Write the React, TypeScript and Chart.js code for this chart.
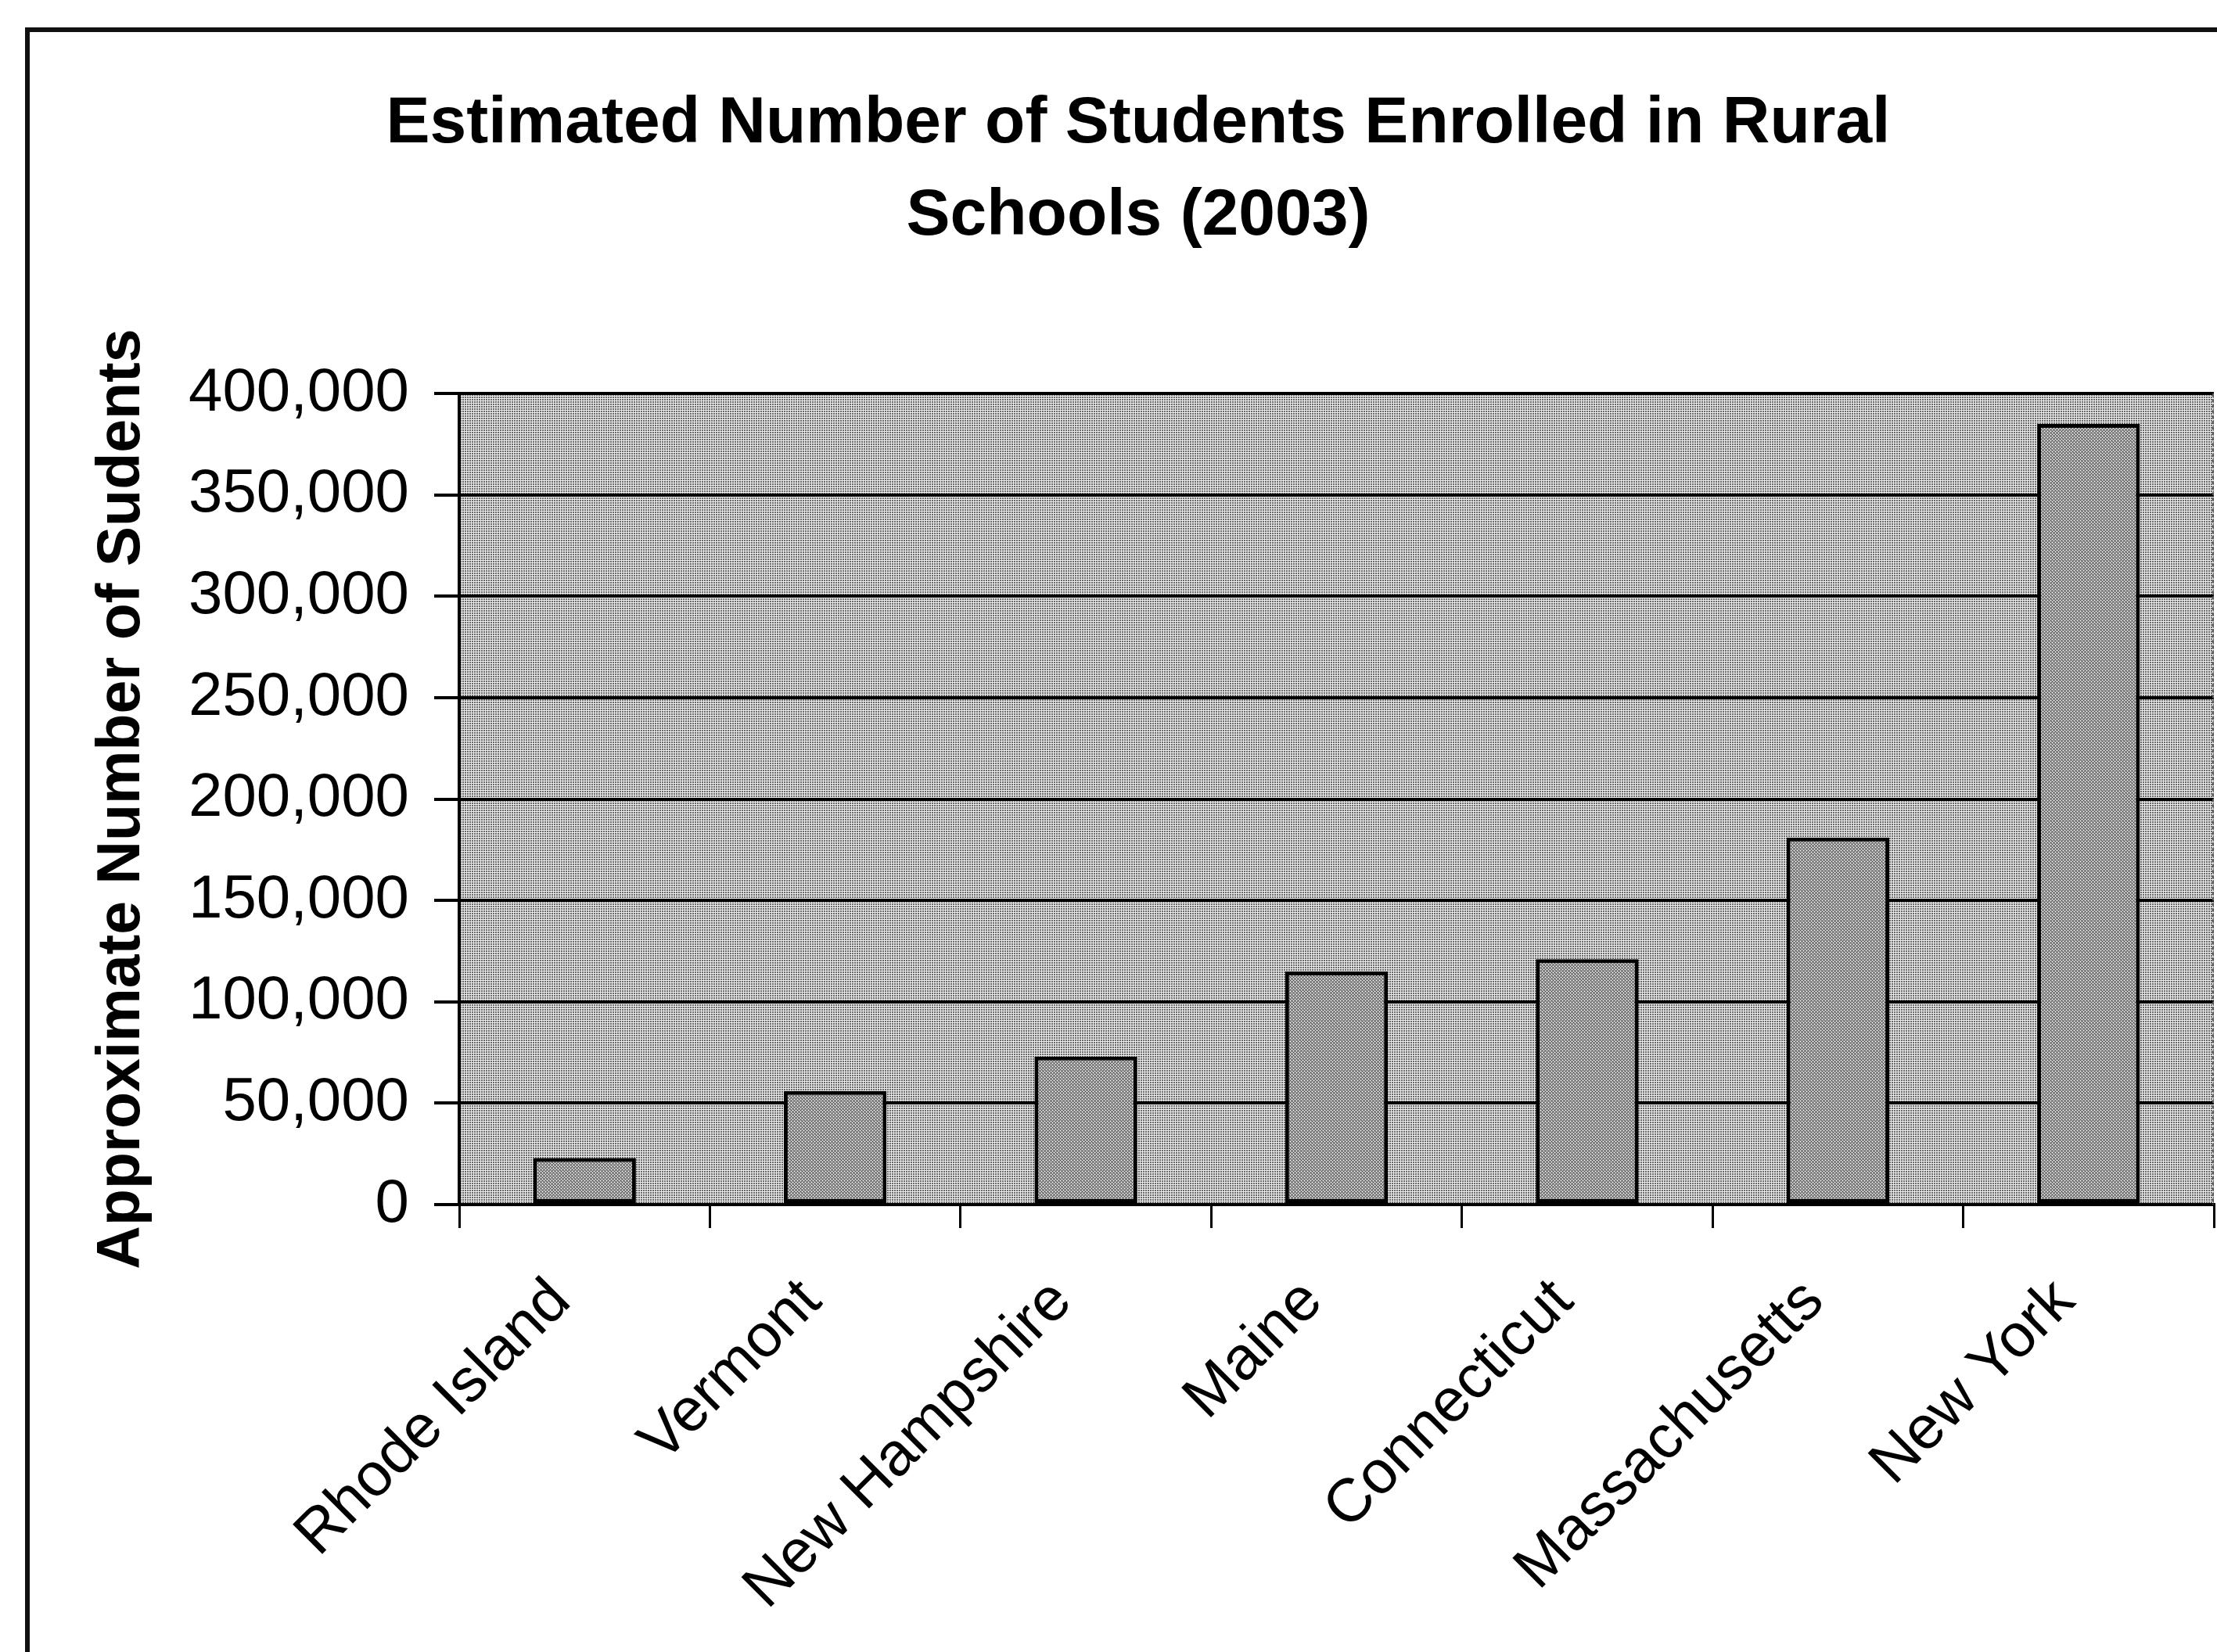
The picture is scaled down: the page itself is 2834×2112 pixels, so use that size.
import React, { useEffect, useRef } from 'react';
import { Chart, registerables } from 'chart.js';

Chart.register(...registerables);

const categories = [
  'Rhode Island',
  'Vermont',
  'New Hampshire',
  'Maine',
  'Connecticut',
  'Massachusetts',
  'New York',
];
const students = [23000, 56000, 73000, 115000, 121000, 181000, 385000];
const yMin = 0;
const yMax = 400000;
const yStep = 50000;
const titleLines = ['Estimated Number of Students Enrolled in Rural', 'Schools (2003)'];
const yAxisTitle = 'Approximate Number of Sudents';

const FONT = '"Liberation Sans", Arial, Helvetica, sans-serif';
const W = 2834;
const H = 2112;

function makePattern(matrix: number[][], dark: string, light: string) {
  const n = matrix.length;
  const c = document.createElement('canvas');
  c.width = matrix[0].length;
  c.height = n;
  const g = c.getContext('2d')!;
  for (let y = 0; y < n; y++) {
    for (let x = 0; x < matrix[y].length; x++) {
      g.fillStyle = matrix[y][x] ? dark : light;
      g.fillRect(x, y, 1, 1);
    }
  }
  return g.createPattern(c, 'repeat')!;
}

export default function App() {
  const canvasRef = useRef<HTMLCanvasElement | null>(null);

  useEffect(() => {
    document.body.style.margin = '0';
    const canvas = canvasRef.current;
    if (!canvas) return;
    const ctx = canvas.getContext('2d')!;

    const bgPattern = makePattern(
      [
        [1, 1, 0],
        [1, 1, 0],
        [0, 0, 0],
      ],
      '#6a6a6a',
      '#ececec'
    );
    const barPattern = makePattern(
      [
        [1, 0, 1, 0],
        [0, 1, 0, 0],
        [1, 0, 1, 0],
        [0, 0, 0, 1],
      ],
      '#363636',
      '#d4d4d4'
    );

    const framePlugin = {
      id: 'frame',
      beforeDraw(chart: any) {
        const { ctx: c, chartArea } = chart;
        c.save();
        c.fillStyle = '#ffffff';
        c.fillRect(0, 0, chart.width, chart.height);
        c.fillStyle = bgPattern;
        c.fillRect(chartArea.left, chartArea.top, chartArea.right - chartArea.left, chartArea.bottom - chartArea.top);
        c.restore();
      },
      afterDraw(chart: any) {
        const { ctx: c, chartArea } = chart;
        c.save();
        c.strokeStyle = '#555555';
        c.lineWidth = 2;
        c.setLineDash([4, 3]);
        c.beginPath();
        c.moveTo(chartArea.right - 1, chartArea.top);
        c.lineTo(chartArea.right - 1, chartArea.bottom);
        c.stroke();
        c.setLineDash([]);
        c.strokeStyle = '#111111';
        c.lineWidth = 6;
        c.strokeRect(35, 38, 6000, 6000);
        c.restore();
      },
    };

    const chart = new Chart(ctx, {
      type: 'bar',
      data: {
        labels: categories,
        datasets: [
          {
            data: students,
            backgroundColor: barPattern as any,
            borderColor: '#000000',
            borderWidth: 5,
            borderSkipped: false,
            barPercentage: 0.41,
            categoryPercentage: 1.0,
          },
        ],
      },
      options: {
        responsive: false,
        animation: false,
        devicePixelRatio: 1,
        layout: { padding: { left: 80, right: 4, top: 0, bottom: 0 } },
        plugins: {
          legend: { display: false },
          tooltip: { enabled: false },
          title: {
            display: true,
            text: titleLines,
            color: '#000000',
            font: { family: FONT, size: 84, weight: 'bold', lineHeight: 1.4 },
            padding: { top: 100, bottom: 168 },
          },
        },
        scales: {
          x: {
            grid: {
              display: true,
              drawOnChartArea: false,
              drawTicks: true,
              tickLength: 30,
              color: '#000000',
              lineWidth: 3,
              offset: true,
            },
            border: { display: true, color: '#000000', width: 4 },
            ticks: {
              color: '#000000',
              font: { family: FONT, size: 78 },
              maxRotation: 45,
              minRotation: 45,
              padding: 48,
              labelOffset: -30,
              autoSkip: false,
            },
            afterFit: (s: any) => {
              s.height = 572;
            },
          },
          y: {
            min: yMin,
            max: yMax,
            ticks: {
              stepSize: yStep,
              color: '#000000',
              font: { family: FONT, size: 78 },
              padding: 32,
              callback: (v: any) => Number(v).toLocaleString('en-US'),
            },
            grid: { color: '#000000', lineWidth: 4, tickLength: 32 },
            border: { display: true, color: '#000000', width: 4 },
            title: {
              display: true,
              text: yAxisTitle,
              color: '#000000',
              font: { family: FONT, size: 77, weight: 'bold' },
              padding: { top: 31, bottom: 0 },
            },
            afterFit: (s: any) => {
              s.width = 507;
            },
          },
        },
      },
      plugins: [framePlugin],
    });

    return () => {
      chart.destroy();
    };
  }, []);

  return (
    <div style={{ position: 'absolute', left: 0, top: 0, width: W, height: H }}>
      <canvas ref={canvasRef} width={W} height={H} style={{ width: W, height: H, display: 'block' }} />
    </div>
  );
}
